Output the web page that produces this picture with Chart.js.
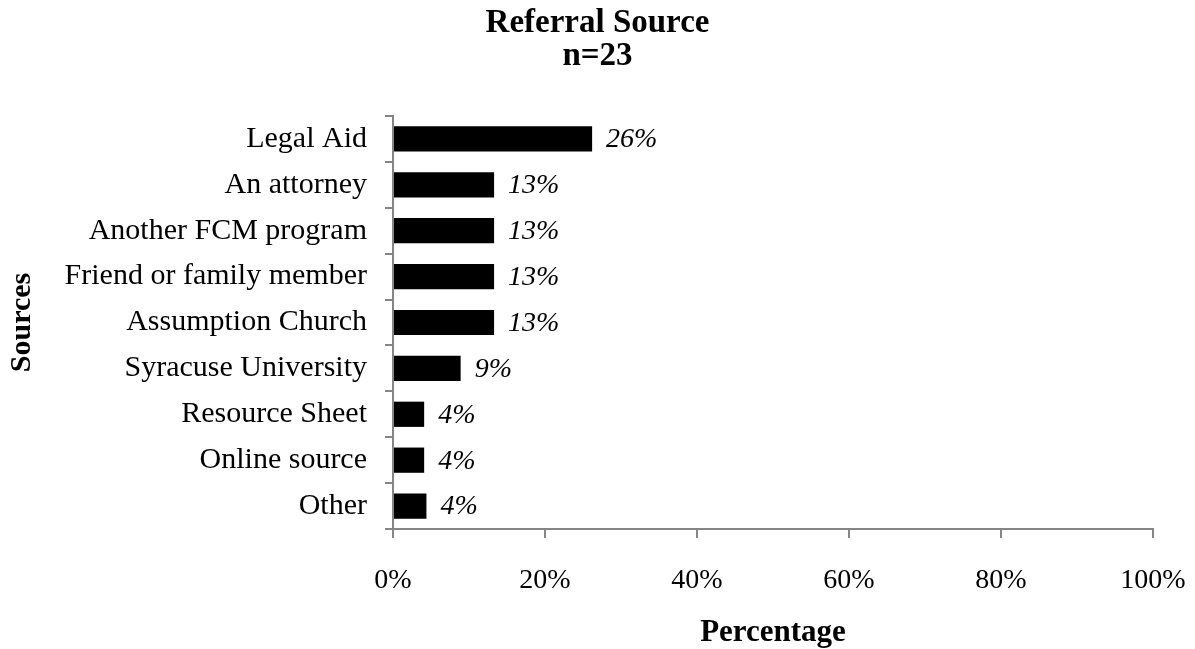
<!DOCTYPE html>
<html>
<head>
<meta charset="utf-8">
<title>Referral Source</title>
<script src="https://cdn.jsdelivr.net/npm/chart.js@4"></script>
<style>
    html, body { margin: 0; padding: 0; background: #ffffff; }
    #wrap { width: 1195px; height: 649px; position: relative; }
</style>
</head>
<body>
<div id="wrap"><canvas id="graficaFuentes"></canvas></div>
<script>
var fuentes = [
    'Legal Aid',
    'An attorney',
    'Another FCM program',
    'Friend or family member',
    'Assumption Church',
    'Syracuse University',
    'Resource Sheet',
    'Online source',
    'Other'
];
var porcentajes = [26.2, 13.3, 13.3, 13.3, 13.3, 8.9, 4.1, 4.1, 4.4];
var ticksX = [0, 20, 40, 60, 80, 100];

var SERIF = '"Liberation Serif", "Times New Roman", serif';
var GRIS = '#858585';

// etiquetas en cursiva a la derecha de cada barra
var etiquetasBarras = {
    id: 'etiquetasBarras',
    afterDatasetsDraw: function(chart) {
        var ctx = chart.ctx;
        var meta = chart.getDatasetMeta(0);
        var datos = chart.data.datasets[0].data;
        ctx.save();
        ctx.fillStyle = '#000000';
        ctx.font = 'italic 28px ' + SERIF;
        ctx.textAlign = 'left';
        ctx.textBaseline = 'middle';
        meta.data.forEach(function(bar, i) {
            ctx.fillText(Math.round(datos[i]) + '%', bar.x + 14, bar.y + 1);
        });
        ctx.restore();
    }
};

var ctx = document.getElementById('graficaFuentes').getContext('2d');
new Chart(ctx, {
    type: 'bar',
    plugins: [etiquetasBarras],
    data: {
        labels: fuentes,
        datasets: [{
            data: porcentajes,
            backgroundColor: '#000000',
            borderWidth: 0,
            barPercentage: 0.55,
            categoryPercentage: 1
        }]
    },
    options: {
        indexAxis: 'y',
        responsive: true,
        maintainAspectRatio: false,
        animation: false,
        layout: { padding: 0 },
        plugins: {
            legend: { display: false },
            tooltip: { enabled: false },
            title: {
                display: true,
                text: ['Referral Source', 'n=23'],
                color: '#000000',
                font: { family: SERIF, size: 33, weight: 'bold', lineHeight: 1 },
                padding: { top: 7, bottom: 43 }
            }
        },
        scales: {
            x: {
                min: 0,
                max: 100,
                afterBuildTicks: function(scale) {
                    scale.ticks = ticksX.map(function(v) { return { value: v }; });
                },
                afterFit: function(scale) {
                    scale.height = 120;
                    scale.paddingRight = 42;
                },
                ticks: {
                    color: '#000000',
                    font: { family: SERIF, size: 28 },
                    padding: 26,
                    maxRotation: 0,
                    callback: function(v) { return v + '%'; }
                },
                grid: {
                    drawOnChartArea: false,
                    drawTicks: true,
                    tickLength: 9,
                    lineWidth: 2,
                    color: GRIS
                },
                border: { display: true, color: GRIS, width: 2 },
                title: {
                    display: true,
                    text: 'Percentage',
                    color: '#000000',
                    font: { family: SERIF, size: 31, weight: 'bold' },
                    padding: { top: 0, bottom: -3 }
                }
            },
            y: {
                afterFit: function(scale) { scale.width = 393; },
                ticks: {
                    color: '#000000',
                    font: { family: SERIF, size: 30 },
                    padding: 18,
                    autoSkip: false
                },
                grid: {
                    offset: true,
                    drawOnChartArea: false,
                    drawTicks: true,
                    tickLength: 8,
                    lineWidth: 2,
                    color: GRIS
                },
                border: { display: true, color: GRIS, width: 2 },
                title: {
                    display: true,
                    text: 'Sources',
                    color: '#000000',
                    font: { family: SERIF, size: 30, weight: 'bold' },
                    padding: { top: 4, bottom: 0 }
                }
            }
        }
    }
});
</script>
</body>
</html>
